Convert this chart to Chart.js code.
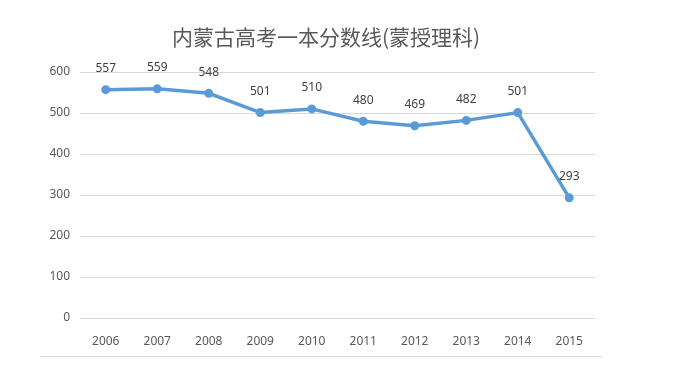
<!DOCTYPE html>
<html>
<head>
<meta charset="utf-8">
<script src="https://cdn.jsdelivr.net/npm/chart.js@4/dist/chart.umd.min.js"></script>
<style>
  html, body { margin: 0; padding: 0; background: #fff; }
  #wrap { position: relative; width: 685px; height: 368px; }
  #baseLine { position: absolute; left: 40px; top: 356px; width: 562px; height: 1px; background: #d9d9d9; }
</style>
</head>
<body>
<div id="wrap">
  <canvas id="chart" width="685" height="368"></canvas>
  <div id="baseLine"></div>
</div>
<script>
// ── Datos ────────────────────────────────────────────
const titulo = '内蒙古高考一本分数线(蒙授理科)';
const anios = ['2006', '2007', '2008', '2009', '2010', '2011', '2012', '2013', '2014', '2015'];
const puntajes = [557, 559, 548, 501, 510, 480, 469, 482, 501, 293];
const ticksY = [0, 100, 200, 300, 400, 500, 600];

const FONT = '"Noto Sans", "Noto Sans CJK SC", sans-serif';

// ── Título y etiquetas de valor ──────────────────────
const etiquetas = {
    id: 'etiquetas',
    afterDatasetsDraw(chart) {
        const ctx = chart.ctx;
        const meta = chart.getDatasetMeta(0);
        ctx.save();
        ctx.font = '12px ' + FONT;
        ctx.fillStyle = '#404040';
        ctx.textAlign = 'center';
        ctx.textBaseline = 'middle';
        meta.data.forEach((p, i) => {
            ctx.fillText(String(puntajes[i]), p.x, p.y - 21);
        });
        // título
        ctx.font = '21px "Noto Sans CJK SC", sans-serif';
        ctx.fillStyle = '#595959';
        ctx.fillText(titulo, 326, 37);
        ctx.restore();
    }
};

new Chart(document.getElementById('chart'), {
    type: 'line',
    data: {
        labels: anios,
        datasets: [{
            data: puntajes,
            borderColor: '#5b9bd5',
            backgroundColor: '#5b9bd5',
            borderWidth: 3.5,
            pointRadius: 4.5,
            pointBackgroundColor: '#5b9bd5',
            pointBorderWidth: 0,
            tension: 0
        }]
    },
    options: {
        responsive: false,
        animation: false,
        layout: { padding: { left: 0, right: 90, top: 72, bottom: 0 } },
        plugins: {
            legend: { display: false },
            tooltip: { enabled: false },
            title: { display: false }
        },
        scales: {
            x: {
                offset: true,
                grid: { display: false },
                border: { display: false },
                ticks: { color: '#595959', font: { family: FONT, size: 12 }, padding: 8 },
                afterFit: s => { s.height = 50; }
            },
            y: {
                min: 0, max: 600,
                afterBuildTicks: s => { s.ticks = ticksY.map(v => ({ value: v })); },
                grid: { color: '#d9d9d9', drawTicks: false },
                border: { display: false },
                ticks: { color: '#595959', font: { family: FONT, size: 12 }, padding: 10 },
                afterFit: s => { s.width = 80; }
            }
        }
    },
    plugins: [etiquetas]
});
</script>
</body>
</html>
